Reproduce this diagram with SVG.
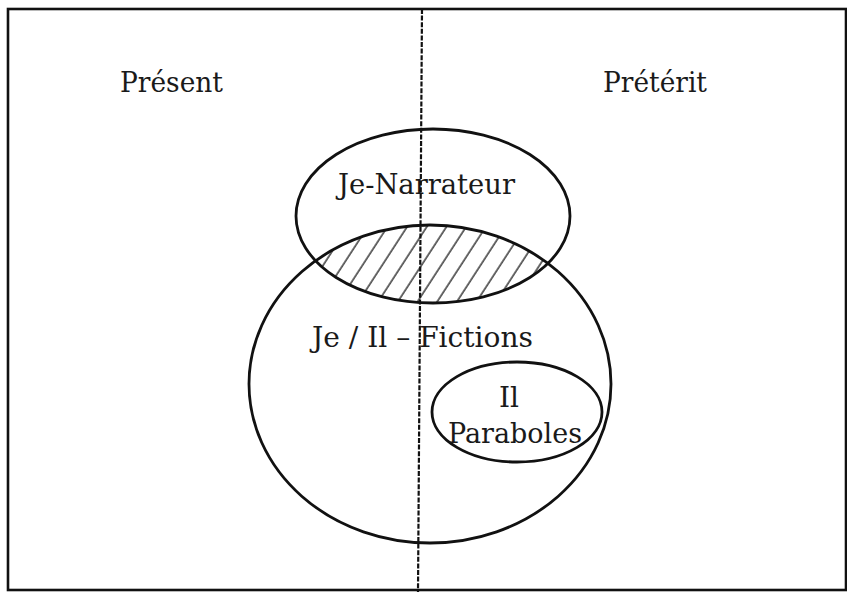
<svg xmlns="http://www.w3.org/2000/svg" width="847" height="592" viewBox="0 0 847 592">
  <style>
    .shape { fill: none; stroke: #111; stroke-width: 2.8; }
    .lbl { font-family: "DejaVu Serif", "Liberation Serif", serif; font-size: 28px; fill: #1a1a1a; }
  </style>
  <defs>
    <pattern id="hatch" patternUnits="userSpaceOnUse" width="16.5" height="20" patternTransform="rotate(33)">
      <line x1="3" y1="-5" x2="3" y2="25" stroke="#444" stroke-width="1.6"/>
    </pattern>
    <clipPath id="clipTop">
      <ellipse cx="433" cy="216" rx="137" ry="87"/>
    </clipPath>
  </defs>
  <rect width="847" height="592" fill="#ffffff"/>
  <g id="frame">
    <rect x="8" y="9" width="838" height="581" fill="none" stroke="#111" stroke-width="2.6"/>
  </g>
  <g id="labels-columns">
    <text class="lbl" x="120" y="92" textLength="103" lengthAdjust="spacingAndGlyphs">Présent</text>
    <text class="lbl" x="603" y="92" textLength="104" lengthAdjust="spacingAndGlyphs">Prétérit</text>
  </g>
  <g id="intersection">
    <ellipse cx="430" cy="384" rx="181" ry="159" fill="url(#hatch)" clip-path="url(#clipTop)" stroke="none"/>
  </g>
  <g id="je-narrateur">
    <ellipse class="shape" cx="433" cy="216" rx="137" ry="87"/>
    <text class="lbl" x="338" y="194" textLength="177" lengthAdjust="spacingAndGlyphs">Je-Narrateur</text>
  </g>
  <g id="fictions">
    <ellipse class="shape" cx="430" cy="384" rx="181" ry="159"/>
    <text class="lbl" x="312" y="347" textLength="221" lengthAdjust="spacingAndGlyphs">Je / Il – Fictions</text>
  </g>
  <g id="paraboles">
    <ellipse class="shape" cx="517" cy="412" rx="85" ry="50"/>
    <text class="lbl" x="509" y="407" text-anchor="middle">Il</text>
    <text class="lbl" x="448" y="443" textLength="134" lengthAdjust="spacingAndGlyphs">Paraboles</text>
  </g>
  <g id="connectors">
    <line x1="422" y1="9" x2="418" y2="592" stroke="#111" stroke-width="2.2" stroke-dasharray="5 1.6"/>
  </g>
</svg>
